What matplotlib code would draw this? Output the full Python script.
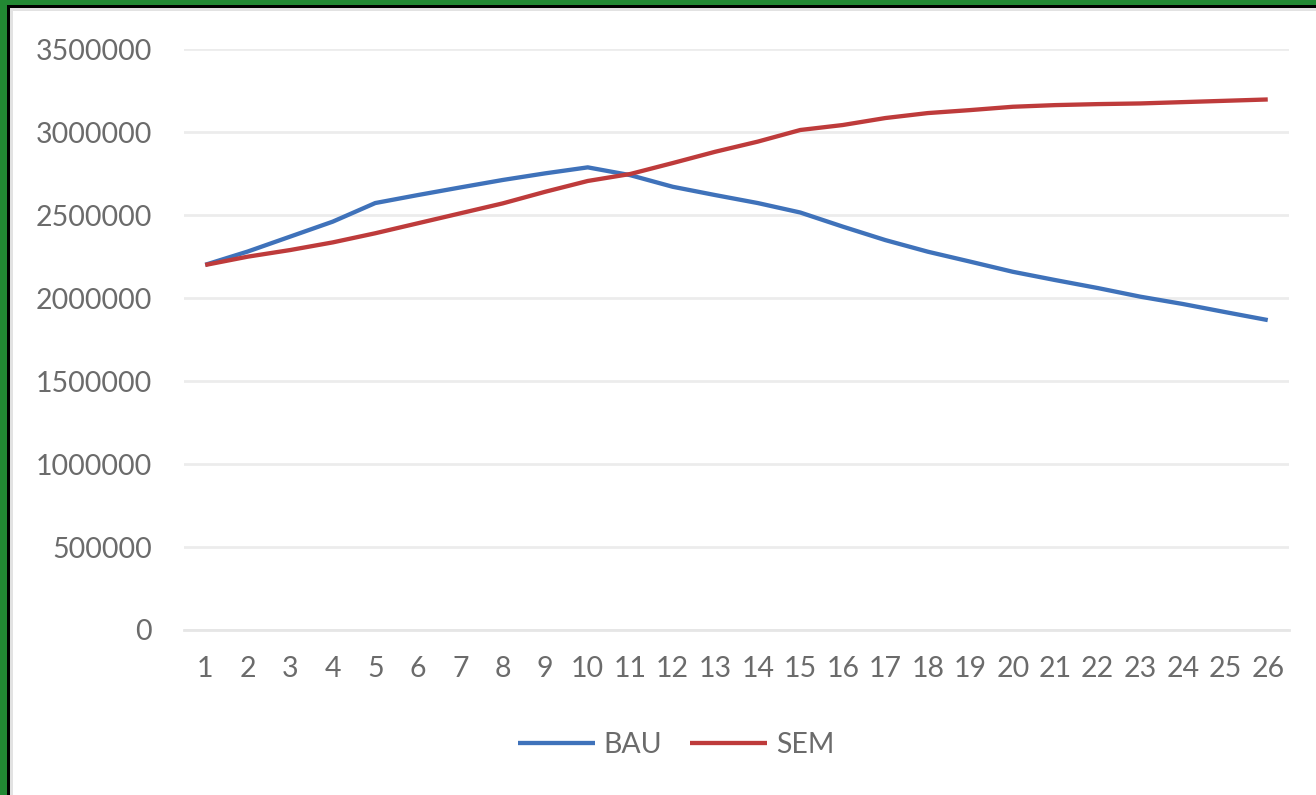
"""BAU vs SEM trajectory over 26 periods."""

import matplotlib

matplotlib.use("Agg")
import matplotlib.pyplot as plt
from matplotlib.patches import Rectangle


periods = list(range(1, 27))
bau = [2200000, 2280000, 2370000, 2460000, 2572000, 2620000, 2666000, 2711000, 2751000, 2787000,
       2740000, 2670000, 2620000, 2572000, 2515000, 2430000, 2349000, 2279000, 2219000, 2158000,
       2108000, 2060000, 2008000, 1964000, 1915000, 1867000]
sem = [2199000, 2249000, 2289000, 2335000, 2390000, 2450000, 2510000, 2570000, 2640000, 2705000,
       2747000, 2813000, 2881000, 2942000, 3012000, 3042000, 3084000, 3114000, 3132000, 3152000,
       3162000, 3168000, 3172000, 3180000, 3188000, 3196000]
y_ticks = [0, 500000, 1000000, 1500000, 2000000, 2500000, 3000000, 3500000]

BLUE = "#3F72BA"
RED = "#BE3B3B"
TEXT = "#6b6b6b"
W, H = 1316, 795


def main():
    plt.rcParams["font.family"] = ["Lato", "DejaVu Sans"]
    fig = plt.figure(figsize=(W / 100, H / 100), dpi=100)

    # frame only on the top and left edges (green, black, light grey), in pixels
    for x0, y0, w, h, c in [
        (0, 0, W, 5, "#228833"), (0, 0, 7, H, "#228833"),
        (7, 5, W, 3, "black"), (7, 5, 3, H, "black"),
        (10, 8, W, 3, "#e2e2e2"), (10, 8, 3, H, "#e2e2e2"),
    ]:
        fig.patches.append(Rectangle((x0 / W, 1 - (y0 + h) / H), w / W, h / H,
                                     transform=fig.transFigure, facecolor=c,
                                     edgecolor="none", zorder=-1))

    ax = fig.add_axes([184 / W, 1 - 630 / H, 1105 / W, 581 / H])
    ax.set_facecolor("none")
    ax.plot(periods, bau, color=BLUE, lw=3.1, label="BAU", solid_capstyle="butt")
    ax.plot(periods, sem, color=RED, lw=3.1, label="SEM", solid_capstyle="butt")

    ax.set_xlim(0.5, 26.5)
    ax.set_ylim(0, 3500000)
    ax.set_xticks(periods)
    ax.set_xticklabels([str(p) for p in periods])
    ax.set_yticks(y_ticks)
    ax.set_yticklabels([str(v) for v in y_ticks])
    ax.tick_params(axis="both", length=0, labelsize=20.5, colors=TEXT)
    ax.tick_params(axis="y", pad=23)
    ax.tick_params(axis="x", pad=19)
    ax.grid(axis="y", color="#ececec", lw=2)
    ax.set_axisbelow(True)
    for side in ["top", "right", "left"]:
        ax.spines[side].set_visible(False)
    ax.spines["bottom"].set_color("#e6e6e6")
    ax.spines["bottom"].set_linewidth(2)

    leg = fig.legend(loc="center", bbox_to_anchor=(676 / W, 1 - 745 / H), ncol=2,
                     frameon=False, fontsize=20.5, handlelength=2.7, handletextpad=0.3,
                     columnspacing=1.0)
    for t in leg.get_texts():
        t.set_color(TEXT)

    fig.savefig("out.png", dpi=100)
    plt.close(fig)


if __name__ == "__main__":
    main()
